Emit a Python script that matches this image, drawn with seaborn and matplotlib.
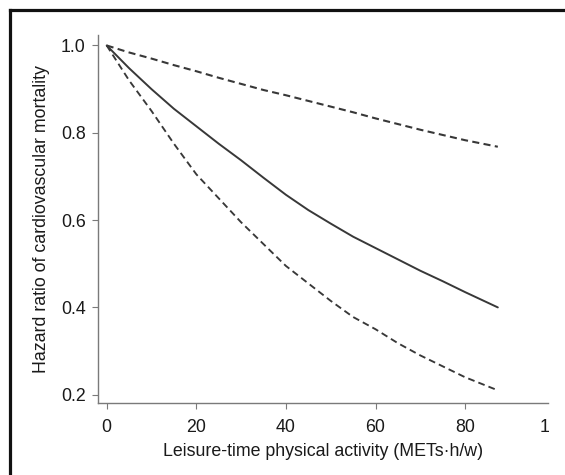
import matplotlib
matplotlib.use("Agg")
import matplotlib.pyplot as plt
from matplotlib.lines import Line2D
import numpy as np
import pandas as pd
import seaborn as sns

# ---- data ----
activity = [0, 5, 10, 15, 20, 25, 30, 35, 40, 45, 50, 55, 60, 65, 70, 75, 80, 87.3]
hr_estimate = [1.0, 0.948, 0.900, 0.855, 0.815, 0.775, 0.737, 0.697, 0.658, 0.623,
               0.592, 0.562, 0.536, 0.510, 0.484, 0.460, 0.435, 0.400]
hr_lower = [1.0, 0.920, 0.850, 0.775, 0.705, 0.650, 0.595, 0.545, 0.495, 0.455,
            0.415, 0.378, 0.350, 0.318, 0.290, 0.265, 0.240, 0.210]
hr_upper = [1.0, 0.984, 0.970, 0.955, 0.941, 0.926, 0.912, 0.898, 0.886, 0.873,
            0.860, 0.847, 0.833, 0.820, 0.807, 0.795, 0.783, 0.768]
x_ticks = [0, 20, 40, 60, 80]
y_ticks = [0.2, 0.4, 0.6, 0.8, 1.0]
y_tick_labels = ["0.2", "0.4", "0.6", "0.8", "1.0"]
x_label = "Leisure-time physical activity (METs\u00b7h/w)"
y_label = "Hazard ratio of cardiovascular mortality"

df = pd.DataFrame({
    "x": activity * 3,
    "hr": hr_estimate + hr_lower + hr_upper,
    "series": ["estimate"] * len(activity) + ["lower"] * len(activity) + ["upper"] * len(activity),
})

sns.set_style("white")
plt.rcParams["font.family"] = ["Liberation Sans", "DejaVu Sans"]

fig = plt.figure(figsize=(5.65, 4.75), dpi=100)
ax = fig.add_axes([98 / 565, 1 - 403 / 475, 450 / 565, 368 / 475])

line_col = "#383838"
sns.lineplot(data=df[df.series == "estimate"], x="x", y="hr", ax=ax,
             color=line_col, lw=1.4, estimator=None, sort=False)
sns.lineplot(data=df[df.series == "lower"], x="x", y="hr", ax=ax,
             color=line_col, lw=1.35, estimator=None, sort=False)
sns.lineplot(data=df[df.series == "upper"], x="x", y="hr", ax=ax,
             color=line_col, lw=1.5, estimator=None, sort=False)
ax.lines[1].set_dashes([3.6, 2.2])
ax.lines[2].set_dashes([3.4, 2.1])

ax.set_xlim(-1.94, 98.5)
ax.set_ylim(0.181, 1.024)
ax.set_xticks(x_ticks)
ax.set_xticklabels([str(t) for t in x_ticks])
ax.set_yticks(y_ticks)
ax.set_yticklabels(y_tick_labels)

spine_col = "#7a7a7a"
for s in ["top", "right"]:
    ax.spines[s].set_visible(False)
for s in ["left", "bottom"]:
    ax.spines[s].set_color(spine_col)
    ax.spines[s].set_linewidth(1.0)

fs = 12.8
ax.tick_params(axis="both", which="major", length=4, width=0.8, color=spine_col,
               labelsize=fs, labelcolor="#1a1a1a", direction="out",
               left=True, bottom=True)
ax.tick_params(axis="y", pad=5)
ax.tick_params(axis="x", pad=7.5)

# clipped "100" label appears as "1"
ax.annotate("1", xy=(97.8, 0), xycoords=ax.get_xaxis_transform(),
            xytext=(0, -17.3), textcoords="offset points",
            ha="center", va="center", fontsize=fs, color="#1a1a1a",
            annotation_clip=False)

ax.set_xlabel(x_label, fontsize=fs, color="#1a1a1a", labelpad=5)
ax.set_ylabel(y_label, fontsize=fs, color="#1a1a1a", labelpad=8)
ax.grid(False)
ax.set_facecolor("white")

# outer frame: left and top borders only
fig.add_artist(Line2D([10 / 565, 10 / 565], [0, 1 - 10 / 475], transform=fig.transFigure,
                      color="#111111", lw=2.3, solid_capstyle="projecting"))
fig.add_artist(Line2D([10 / 565, 1], [1 - 10 / 475, 1 - 10 / 475], transform=fig.transFigure,
                      color="#111111", lw=2.3, solid_capstyle="projecting"))

fig.savefig("out.png", dpi=100, facecolor="white")
